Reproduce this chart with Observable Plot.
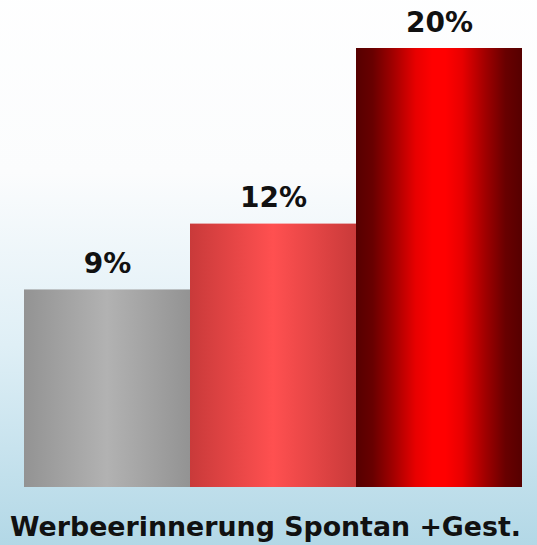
<!DOCTYPE html>
<html>
<head>
<meta charset="utf-8">
<script src="https://cdn.jsdelivr.net/npm/d3@7"></script>
<script src="https://cdn.jsdelivr.net/npm/@observablehq/plot@0.6"></script>
<style>
  html, body { margin: 0; padding: 0; background: #fff; }
  #chart svg { display: block; }
</style>
</head>
<body>
<div id="chart"></div>
<script>
const categories = ["A", "B", "C"];
const values = [9, 12, 20];
const labels = ["9%", "12%", "20%"];
const caption = "Werbeerinnerung Spontan +Gest.";
const gradients = [
  {id: "g0", stops: [[0, "#939393"], [0.5, "#b2b2b2"], [1, "#939393"]]},
  {id: "g1", stops: [[0, "#c93a3a"], [0.5, "#ff5050"], [1, "#c93a3a"]]},
  {id: "g2", stops: [[0, "#560000"], [0.1, "#680000"], [0.22, "#a00000"], [0.36, "#e80000"], [0.46, "#ff0000"], [0.54, "#ff0000"], [0.64, "#e80000"], [0.78, "#a00000"], [0.9, "#680000"], [1, "#560000"]]}
];

const data = categories.map((c, i) => ({cat: c, value: values[i], label: labels[i], grad: gradients[i].id}));

function defsMark() {
  const defs = d3.create("svg:defs");
  for (const g of gradients) {
    const lg = defs.append("linearGradient").attr("id", g.id).attr("x1", 0).attr("x2", 1).attr("y1", 0).attr("y2", 0);
    for (const [o, c] of g.stops) lg.append("stop").attr("offset", o).attr("stop-color", c);
  }
  const bg = defs.append("linearGradient").attr("id", "bg").attr("x1", 0).attr("x2", 0).attr("y1", 0).attr("y2", 1);
  bg.append("stop").attr("offset", "0%").attr("stop-color", "#ffffff");
  bg.append("stop").attr("offset", "35%").attr("stop-color", "#fbfcfd");
  bg.append("stop").attr("offset", "62%").attr("stop-color", "#dfeff6");
  bg.append("stop").attr("offset", "100%").attr("stop-color", "#a9d3e3");
  return defs.node();
}

const chart = Plot.plot({
  width: 537,
  height: 545,
  marginTop: 48,
  marginBottom: 58,
  marginLeft: 23,
  marginRight: 15,
  x: {domain: categories, padding: 0, axis: null},
  y: {domain: [0, 20], axis: null},
  style: {background: "transparent"},
  marks: [
    defsMark,
    Plot.frame({fill: "url(#bg)", stroke: "none", inset: -100}),
    ...data.map(d => Plot.barY([d], {x: "cat", y: "value", fill: `url(#${d.grad})`, inset: 0})),
    Plot.text(data, {
      x: "cat", y: "value", text: "label", lineAnchor: "bottom", dy: -17,
      fontSize: 28, fontWeight: "bold", fill: "#111", fontFamily: "DejaVu Sans",
      letterSpacing: 2
    }),
    Plot.text([caption], {
      frameAnchor: "bottom", text: d => d, dy: 48, dx: -7.5,
      fontSize: 26.8, fontWeight: "bold", fill: "#111", fontFamily: "DejaVu Sans"
    })
  ]
});
document.getElementById("chart").appendChild(chart);
</script>
</body>
</html>
